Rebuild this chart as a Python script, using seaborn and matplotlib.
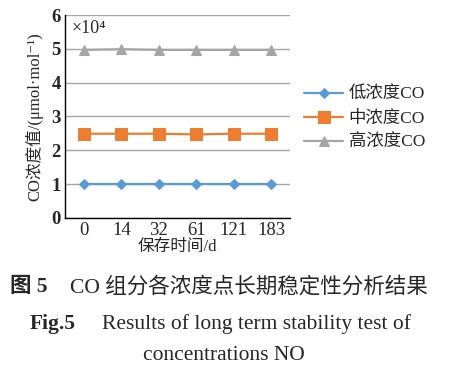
import numpy as np
import pandas as pd
import matplotlib
matplotlib.use("Agg")
import matplotlib.pyplot as plt
import seaborn as sns

# données (unités de 10^4 µmol/mol)
jours = ["0", "14", "32", "61", "121", "183"]
bas = [1.00, 1.00, 1.00, 1.00, 1.00, 1.00]
moyen = [2.49, 2.49, 2.49, 2.47, 2.49, 2.49]
haut = [4.97, 4.99, 4.97, 4.97, 4.97, 4.97]
noms = ["低浓度CO", "中浓度CO", "高浓度CO"]
couleurs = ["#5B9BD5", "#ED7D31", "#A5A5A5"]
marqueurs = ["D", "s", "^"]
tailles = [5, 8, 7.5]

sns.set_style("white")
fam = ["Liberation Serif", "Noto Sans CJK SC", "DejaVu Serif"]
plt.rcParams["font.family"] = fam

fig = plt.figure(figsize=(4.52, 3.77), dpi=100)
ax = fig.add_axes([0.144, 0.422, 0.498, 0.538])

idx = np.arange(len(jours))
for serie, nom, c, m, t in zip([bas, moyen, haut], noms, couleurs, marqueurs, tailles):
    df = pd.DataFrame({"x": idx, "y": serie})
    sns.lineplot(data=df, x="x", y="y", ax=ax, color=c, marker=m, markersize=t,
                 markeredgecolor=c, linewidth=1.6, label=nom)

ax.set_xlim(-0.5, 5.5)
ax.set_ylim(0, 6)
ax.set_yticks(range(0, 7))
ax.set_yticklabels([str(i) for i in range(0, 7)], fontsize=13.5, fontweight="bold")
ax.set_xticks(idx)
ax.set_xticklabels(jours, fontsize=13.5)
ax.yaxis.grid(True, color="#A6A6A6", linewidth=1.0)
ax.set_axisbelow(True)
for s in ["top", "right"]:
    ax.spines[s].set_visible(False)
for s in ["left", "bottom"]:
    ax.spines[s].set_color("black")
    ax.spines[s].set_linewidth(1.0)
ax.tick_params(axis="both", length=0, pad=3)

ax.set_xlabel("保存时间/d", fontsize=12, labelpad=0)
ax.set_ylabel("CO浓度值/(μmol·mol⁻¹)", fontsize=12, labelpad=6)
ax.text(0.03, 0.975, "×10⁴", transform=ax.transAxes, fontsize=13,
        va="top", ha="left")

ax.legend(loc="center left", bbox_to_anchor=(0.99, 0.49), frameon=False,
          fontsize=12.5, handlelength=2.3, labelspacing=0.45, handletextpad=0.3)

# légende de la figure
fig.text(0.022, 1 - 287 / 377, "图 5", fontsize=15.5, fontweight="bold", va="center")
fig.text(0.155, 1 - 287 / 377, "CO 组分各浓度点长期稳定性分析结果", fontsize=15.5, va="center")
fig.text(0.066, 1 - 324 / 377, "Fig.5", fontsize=15.5, fontweight="bold", va="center")
fig.text(0.226, 1 - 324 / 377, "Results of long term stability test of", fontsize=15.5, va="center")
fig.text(0.495, 1 - 356 / 377, "concentrations NO", fontsize=15.5, va="center", ha="center")

fig.savefig("out.png", dpi=100)
